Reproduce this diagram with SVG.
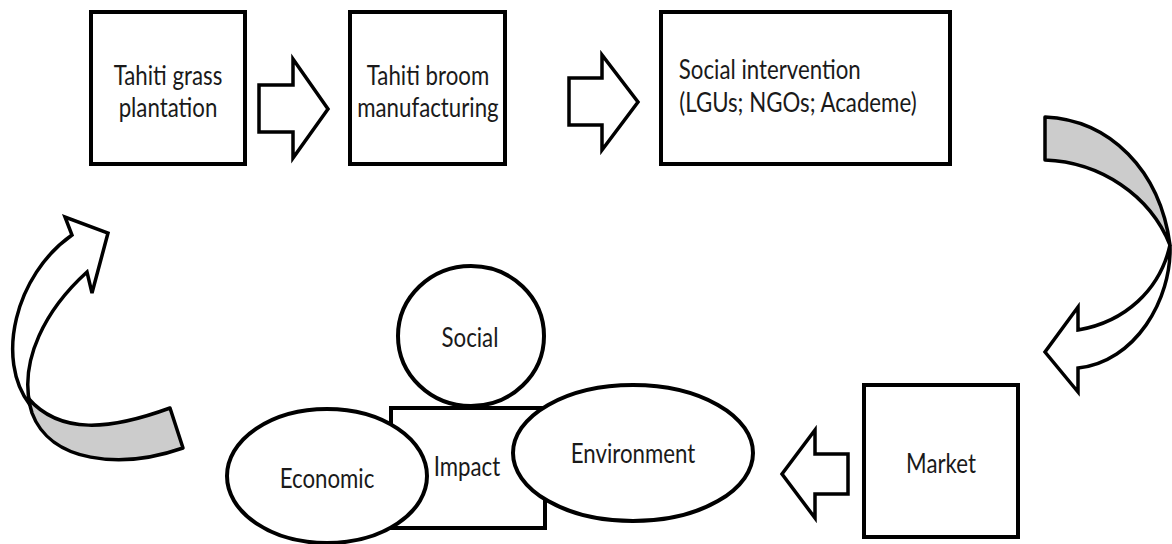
<svg xmlns="http://www.w3.org/2000/svg" width="1172" height="544" viewBox="0 0 1172 544">
<style>
.box{fill:#fff;stroke:#000;stroke-width:4}
.shp{fill:#fff;stroke:#000;stroke-width:3.5;stroke-linejoin:miter}
.gray{fill:#cccccc;stroke:#000;stroke-width:3.5;stroke-linejoin:round}
.wht{fill:#fff;stroke:#000;stroke-width:3.5;stroke-linejoin:miter}
.t{font-family:Lato,"Open Sans",sans-serif;font-size:21px;fill:#1a1a1a;transform-box:fill-box;transform-origin:center;transform:scale(1.06,1.24)}
.c{text-anchor:middle}
</style>
<rect width="1172" height="544" fill="#fff"/>
<g id="connectors">
<polygon class="shp" points="259,85 293,85 293,59 328,109 293,158 293,132 259,132"/>
<polygon class="shp" points="569,78 602,78 602,55 638,102 602,150 602,125 569,125"/>
<polygon class="shp" points="848,454 815,454 815,430 782,474 815,518 815,494 848,494"/>
<g id="curve-right">
<path class="gray" d="M1045,117 C1110,120 1160,170 1170,245 C1150,195 1100,162 1045,160 Z"/>
<path class="wht" d="M1170,245 C1172,300 1135,362 1078,368 L1078,392 L1045,352 L1078,307 L1078,330 C1125,322 1160,290 1170,245 Z"/>
</g>
<g id="curve-left">
<path class="wht" d="M30,405 C-5,360 15,275 72,235 L65,217 L108,233 L92,293 L87,272 C45,310 20,360 30,405 Z"/>
<path class="gray" d="M28,398 C60,435 110,430 170,408 L183,448 C120,470 50,462 32,413 Z"/>
</g>
</g>
<g id="n1">
<rect class="box" x="91" y="12" width="154" height="152"/>
<text class="t c" x="168" y="83">Tahiti grass</text>
<text class="t c" x="168" y="115">plantation</text>
</g>
<g id="n2">
<rect class="box" x="350" y="12" width="155" height="152"/>
<text class="t c" x="428" y="83">Tahiti broom</text>
<text class="t c" x="428" y="115">manufacturing</text>
</g>
<g id="n3">
<rect class="box" x="661" y="12" width="289" height="152"/>
<text class="t" x="684" y="77">Social intervention</text>
<text class="t" x="686" y="110">(LGUs; NGOs; Academe)</text>
</g>
<g id="market">
<rect class="box" x="864" y="385" width="154" height="152"/>
<text class="t c" x="941" y="471">Market</text>
</g>
<g id="impact">
<rect class="box" x="391" y="408" width="154" height="120"/>
<text class="t c" x="467" y="474">Impact</text>
</g>
<g id="social">
<ellipse class="box" cx="471" cy="336" rx="73" ry="70"/>
<text class="t c" x="470" y="345">Social</text>
</g>
<g id="economic">
<ellipse class="box" cx="327" cy="476" rx="100" ry="67"/>
<text class="t c" x="327" y="486">Economic</text>
</g>
<g id="environment">
<ellipse class="box" cx="633" cy="453" rx="120" ry="68"/>
<text class="t c" x="633" y="461">Environment</text>
</g>
</svg>
